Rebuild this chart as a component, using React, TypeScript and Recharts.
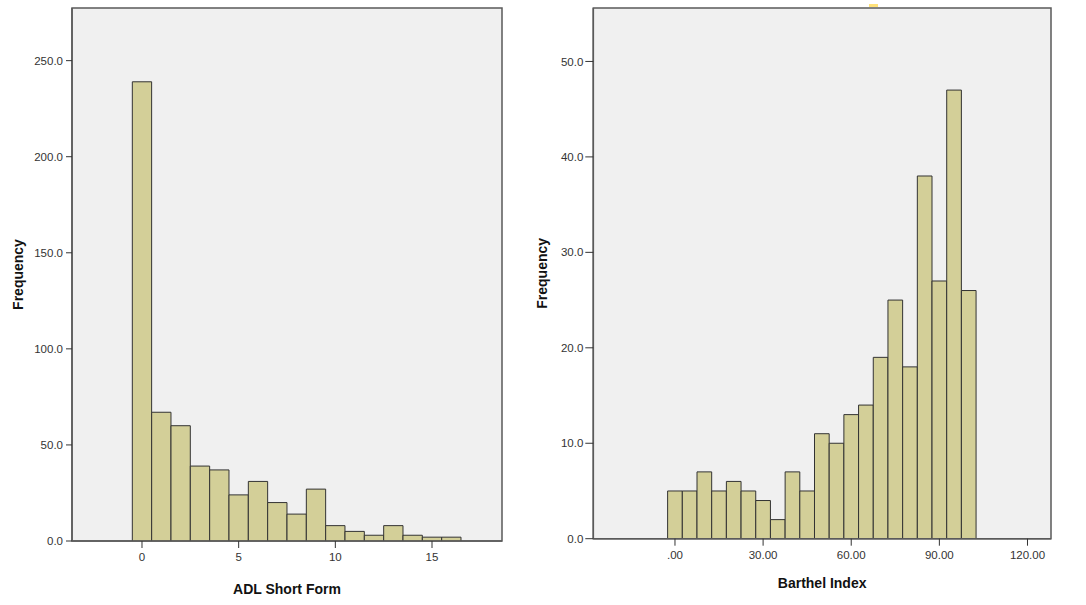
import { BarChart, Bar, XAxis, YAxis, CartesianGrid, ReferenceArea } from "recharts";

// ADL Short Form histogram (bin width 1)
const adlScores = [0, 1, 2, 3, 4, 5, 6, 7, 8, 9, 10, 11, 12, 13, 14, 15, 16];
const adlFreq = [239, 67, 60, 39, 37, 24, 31, 20, 14, 27, 8, 5, 3, 8, 3, 2, 2];
const adlXTicks = [0, 5, 10, 15];
const adlYTicks = [0, 50, 100, 150, 200, 250];

// Barthel Index histogram (bin width 5)
const barthelScores = [0, 5, 10, 15, 20, 25, 30, 35, 40, 45, 50, 55, 60, 65, 70, 75, 80, 85, 90, 95, 100];
const barthelFreq = [5, 5, 7, 5, 6, 5, 4, 2, 7, 5, 11, 10, 13, 14, 19, 25, 18, 38, 27, 47, 26];
const barthelXTicks = [0, 30, 60, 90, 120];
const barthelYTicks = [0, 10, 20, 30, 40, 50];

const adlData = adlScores.map((x, i) => ({ x, freq: adlFreq[i] }));
const barthelData = barthelScores.map((x, i) => ({ x, freq: barthelFreq[i] }));

const FONT = "'Liberation Sans', Arial, sans-serif";
const tickStyle = { fill: "#333", fontSize: 11.5, fontFamily: FONT };
const labelStyle = { fill: "#111", fontSize: 14, fontWeight: 700, fontFamily: FONT, textAnchor: "middle" as const };
const BORDER = "#5a5a5a";

type HistProps = {
  data: { x: number; freq: number }[];
  width: number;
  height: number;
  margin: { top: number; right: number; left: number; bottom: number };
  yAxisWidth: number;
  xAxisHeight: number;
  xDomain: [number, number];
  yDomain: [number, number];
  xTicks: number[];
  yTicks: number[];
  binWidth: number;
  xFormat: (v: number) => string;
  xLabel: string;
  xLabelOffset: number;
  yLabelOffset: number;
  ySize: number;
  yMargin: number;
};

function Histogram(p: HistProps) {
  const plotW = p.width - p.margin.left - p.margin.right - p.yAxisWidth;
  // a hair under the bin width so recharts doesn't shrink the bars to 90%
  const barSize = (plotW / (p.xDomain[1] - p.xDomain[0])) * p.binWidth * 0.999;
  return (
    <BarChart width={p.width} height={p.height} data={p.data} margin={p.margin} barCategoryGap={0} barGap={0}>
      <CartesianGrid fill="#f0f0f0" horizontal={false} vertical={false} />
      <XAxis
        dataKey="x"
        type="number"
        domain={p.xDomain}
        allowDataOverflow
        ticks={p.xTicks}
        tickFormatter={p.xFormat}
        height={p.xAxisHeight}
        tick={tickStyle}
        tickSize={7}
        tickMargin={5}
        tickLine={{ stroke: "#333" }}
        axisLine={{ stroke: BORDER, strokeWidth: 1.5 }}
        label={{ value: p.xLabel, position: "insideBottom", offset: p.xLabelOffset, style: labelStyle }}
      />
      <YAxis
        type="number"
        domain={p.yDomain}
        allowDataOverflow
        ticks={p.yTicks}
        tickFormatter={(v: number) => v.toFixed(1)}
        width={p.yAxisWidth}
        tick={tickStyle}
        tickSize={p.ySize}
        tickMargin={p.yMargin}
        tickLine={{ stroke: "#333" }}
        axisLine={{ stroke: BORDER, strokeWidth: 1.5 }}
        label={{ value: "Frequency", angle: -90, position: "insideLeft", offset: p.yLabelOffset, style: labelStyle }}
      />
      <Bar dataKey="freq" fill="#d3cf98" stroke="#333" strokeWidth={1} barSize={barSize} isAnimationActive={false} />
      <ReferenceArea
        x1={p.xDomain[0]}
        x2={p.xDomain[1]}
        y1={p.yDomain[0]}
        y2={p.yDomain[1]}
        fill="none"
        fillOpacity={0}
        stroke={BORDER}
        strokeWidth={1.5}
        ifOverflow="visible"
      />
    </BarChart>
  );
}

export default function App() {
  return (
    <div style={{ position: "absolute", left: 0, top: 0, width: 1086, height: 605, background: "#fff" }}>
      <div style={{ position: "absolute", left: 0, top: 0 }}>
        <Histogram
          data={adlData}
          width={530}
          height={605}
          margin={{ top: 8, right: 28, left: 0, bottom: 0 }}
          yAxisWidth={72}
          xAxisHeight={64}
          xDomain={[-3.62, 18.62]}
          yDomain={[0, 277.4]}
          xTicks={adlXTicks}
          yTicks={adlYTicks}
          binWidth={1}
          xFormat={(v) => String(v)}
          xLabel="ADL Short Form"
          xLabelOffset={11}
          yLabelOffset={18}
          ySize={6}
          yMargin={3}
        />
      </div>
      <div style={{ position: "absolute", left: 530, top: 0 }}>
        <Histogram
          data={barthelData}
          width={556}
          height={605}
          margin={{ top: 8, right: 35, left: 0, bottom: 0 }}
          yAxisWidth={63.3}
          xAxisHeight={66.3}
          xDomain={[-27.8, 128]}
          yDomain={[0, 55.6]}
          xTicks={barthelXTicks}
          yTicks={barthelYTicks}
          binWidth={5}
          xFormat={(v) => (v === 0 ? ".00" : v.toFixed(2))}
          xLabel="Barthel Index"
          xLabelOffset={17}
          yLabelOffset={12}
          ySize={8}
          yMargin={2}
        />
      </div>
      <div style={{ position: "absolute", left: 869, top: 4, width: 9, height: 3, background: "#ffe27a" }} />
    </div>
  );
}
